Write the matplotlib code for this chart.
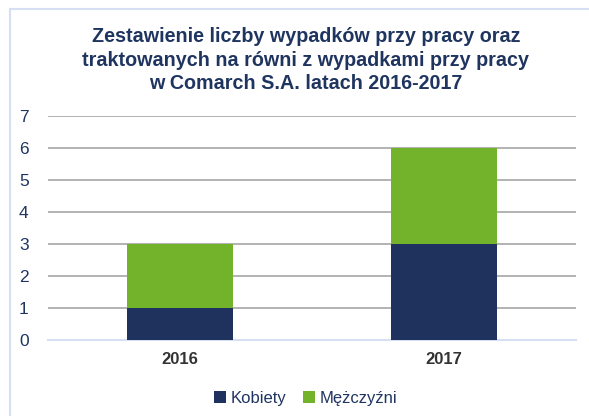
import matplotlib
matplotlib.use("Agg")
import matplotlib.pyplot as plt
from matplotlib.patches import Rectangle

plt.rcParams['font.family'] = ['Liberation Sans', 'DejaVu Sans']

years = ["2016", "2017"]
kobiety = [1, 3]
mezczyzni = [2, 3]
series_names = ["Kobiety", "Mężczyźni"]
title = "Zestawienie liczby wypadków przy pracy oraz\ntraktowanych na równi z wypadkami przy pracy\nw Comarch S.A. latach 2016-2017"

navy = "#1f325e"
green = "#73b32c"
text_col = "#1f3560"

fig = plt.figure(figsize=(5.89, 4.16), dpi=100)
fig.patches.append(Rectangle((9.5/589, -0.05), 1.1, 1.05 - 8.5/416, transform=fig.transFigure,
                             fill=False, edgecolor="#d6e0f2", linewidth=1.5, clip_on=False))

ax = fig.add_axes([48/589, 1 - 340/416, (576-48)/589, (340-116)/416])
x = range(len(years))
ax.bar(x, kobiety, width=0.4, color=navy, label=series_names[0], zorder=3)
ax.bar(x, mezczyzni, width=0.4, bottom=kobiety, color=green, label=series_names[1], zorder=3)

ax.set_xlim(-0.5, 1.5)
ax.set_ylim(0, 7)
ax.set_yticks(range(0, 8))
ax.yaxis.grid(True, color="#a6a6a6", linewidth=1.2, zorder=0)
for s in ["top", "right", "left"]:
    ax.spines[s].set_visible(False)
ax.spines["bottom"].set_color("#d6e0f2")
ax.spines["bottom"].set_linewidth(1.5)
ax.set_xticks(list(x))
ax.set_xticklabels(years, fontweight="bold", fontsize=12, color="#333333")
ax.tick_params(axis="both", length=0)
ax.tick_params(axis="y", labelsize=12.5, labelcolor=text_col, pad=14)
ax.tick_params(axis="x", pad=9)

fig.text(306/589, 1 - 60/416, title, ha="center", va="center", fontsize=14.2,
         fontweight="bold", color=text_col, linespacing=1.33)

leg = fig.legend(loc="center", bbox_to_anchor=(306/589, 1 - 398/416), ncol=2, frameon=False,
                 fontsize=12, handlelength=0.7, handleheight=0.7, handletextpad=0.3,
                 columnspacing=1.0)
for t in leg.get_texts():
    t.set_color(text_col)

fig.savefig("out.png", dpi=100)
